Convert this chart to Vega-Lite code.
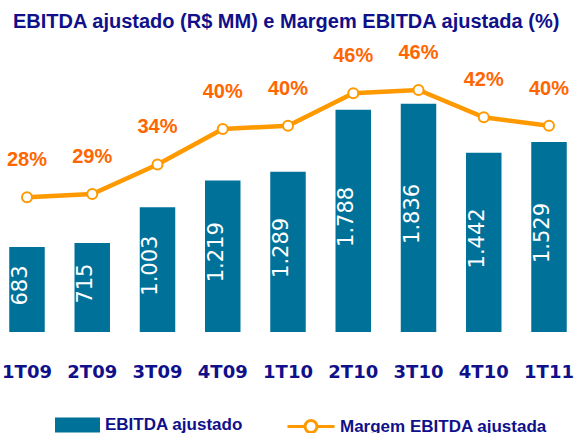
{
  "$schema": "https://vega.github.io/schema/vega-lite/v6.json",
  "width": 576,
  "height": 292,
  "autosize": {"type": "none"},
  "padding": {"top": 40, "left": 0, "right": 0, "bottom": 101},
  "background": "white",
  "title": {
    "text": "EBITDA ajustado (R$ MM) e Margem EBITDA ajustada (%)",
    "anchor": "start",
    "frame": "group",
    "dx": 13,
    "offset": 8,
    "font": "Liberation Sans",
    "fontSize": 20,
    "fontWeight": "bold",
    "color": "#10108a"
  },
  "config": {
    "view": {"stroke": null},
    "legend": {"padding": 0}
  },
  "data": {
    "values": [
      {"periodo": "1T09", "ebitda": 683, "ebitda_label": "683", "margem": 28.16, "margem_label": "28%"},
      {"periodo": "2T09", "ebitda": 715, "ebitda_label": "715", "margem": 28.72, "margem_label": "29%"},
      {"periodo": "3T09", "ebitda": 1003, "ebitda_label": "1.003", "margem": 33.76, "margem_label": "34%"},
      {"periodo": "4T09", "ebitda": 1219, "ebitda_label": "1.219", "margem": 39.83, "margem_label": "40%"},
      {"periodo": "1T10", "ebitda": 1289, "ebitda_label": "1.289", "margem": 40.39, "margem_label": "40%"},
      {"periodo": "2T10", "ebitda": 1788, "ebitda_label": "1.788", "margem": 45.93, "margem_label": "46%"},
      {"periodo": "3T10", "ebitda": 1836, "ebitda_label": "1.836", "margem": 46.5, "margem_label": "46%"},
      {"periodo": "4T10", "ebitda": 1442, "ebitda_label": "1.442", "margem": 41.83, "margem_label": "42%"},
      {"periodo": "1T11", "ebitda": 1529, "ebitda_label": "1.529", "margem": 40.39, "margem_label": "40%"}
    ]
  },
  "encoding": {
    "x": {
      "field": "periodo",
      "type": "nominal",
      "sort": null,
      "scale": {"paddingInner": 0.456, "paddingOuter": 0.1417},
      "axis": {
        "title": null,
        "domain": false,
        "ticks": false,
        "labelAngle": 0,
        "labelPadding": 31,
        "labelFont": "DejaVu Sans",
        "labelFontSize": 18,
        "labelFontWeight": "bold",
        "labelColor": "#10108a"
      }
    }
  },
  "layer": [
    {
      "mark": {"type": "bar"},
      "encoding": {
        "y": {"field": "ebitda", "type": "quantitative", "scale": {"domain": [0, 2349], "nice": false, "zero": true}, "axis": null},
        "fill": {
          "datum": "EBITDA ajustado",
          "scale": {"range": ["#00729a"]},
          "legend": {
            "title": null,
            "orient": "none",
            "legendX": 55,
            "legendY": 362.5,
            "symbolType": "M-1,-0.333 L1,-0.333 L1,0.333 L-1,0.333 Z",
            "symbolSize": 2025,
            "symbolStrokeWidth": 0,
            "labelOffset": 5,
            "labelFont": "Liberation Sans",
            "labelFontSize": 17,
            "labelFontWeight": "bold",
            "labelColor": "#10108a",
            "labelLimit": 400
          }
        }
      }
    },
    {
      "mark": {"type": "text", "angle": 270, "align": "center", "baseline": "middle", "dx": 4, "dy": -6, "font": "DejaVu Sans", "fontSize": 21, "color": "white"},
      "encoding": {
        "y": {"field": "ebitda", "type": "quantitative", "scale": {"domain": [0, 4698], "nice": false, "zero": true}, "axis": null},
        "text": {"field": "ebitda_label"}
      }
    },
    {
      "mark": {"type": "line", "strokeWidth": 4.5, "color": "#ff9900"},
      "encoding": {
        "y": {"field": "margem", "type": "quantitative", "scale": {"domain": [5.13, 55.04], "nice": false, "zero": false}, "axis": null},
        "stroke": {
          "datum": "Margem EBITDA ajustada",
          "scale": {"range": ["#ff9900"]},
          "legend": {
            "title": null,
            "orient": "none",
            "legendX": 286,
            "legendY": 361.5,
            "symbolType": "M-1,0 L-0.255,0 M0.255,0 L1,0 M-0.255,0 A0.255,0.255 0 1,1 0.255,0 A0.255,0.255 0 1,1 -0.255,0 Z",
            "symbolSize": 2209,
            "symbolStrokeWidth": 3,
            "symbolFillColor": "white",
            "labelOffset": 4,
            "labelFont": "Liberation Sans",
            "labelFontSize": 17,
            "labelFontWeight": "bold",
            "labelColor": "#10108a",
            "labelLimit": 400,
            "encode": {"symbols": {"update": {"fill": {"value": "white"}, "stroke": {"value": "#ff9900"}}}}
          }
        }
      }
    },
    {
      "mark": {"type": "point", "shape": "circle", "filled": true, "fill": "white", "stroke": "#ff9900", "strokeWidth": 2, "size": 100, "opacity": 1},
      "encoding": {
        "y": {"field": "margem", "type": "quantitative", "scale": {"domain": [5.13, 55.04], "nice": false, "zero": false}, "axis": null}
      }
    },
    {
      "mark": {"type": "text", "align": "center", "baseline": "middle", "dy": -37, "font": "Liberation Sans", "fontSize": 20, "fontWeight": "bold", "color": "#ff6600"},
      "encoding": {
        "y": {"field": "margem", "type": "quantitative", "scale": {"domain": [5.13, 55.04], "nice": false, "zero": false}, "axis": null},
        "text": {"field": "margem_label"}
      }
    }
  ],
  "resolve": {"scale": {"y": "independent"}}
}
